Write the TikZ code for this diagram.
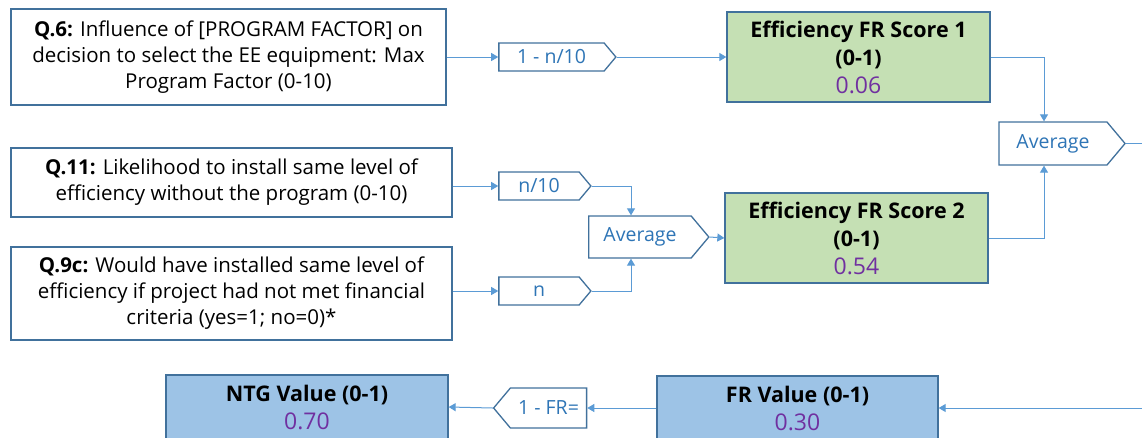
\documentclass[tikz,border=0pt]{standalone}
\usepackage{fontspec}
\setmainfont{Open Sans}
\usetikzlibrary{arrows.meta,shapes.symbols}
\definecolor{boxline}{HTML}{41719C}
\definecolor{wire}{HTML}{5B9BD5}
\definecolor{scoregreen}{HTML}{C5E0B4}
\definecolor{valueblue}{HTML}{9DC3E6}
\definecolor{opblue}{HTML}{2E75B6}
\definecolor{numpurple}{HTML}{7030A0}
\newcommand{\scoreval}[1]{{\fontsize{23}{28}\selectfont\textcolor{numpurple}{#1}}}
\begin{document}
\begin{tikzpicture}[
  x=1pt, y=-1pt,
  question/.style={draw=boxline, line width=1.3pt, fill=white, align=center, inner sep=0pt,
    minimum width=441pt, font=\fontsize{20.5}{26}\selectfont},
  score/.style={draw=boxline, line width=1.3pt, fill=scoregreen, align=center, inner sep=0pt,
    minimum width=263pt, minimum height=90pt, font=\fontsize{21.5}{28}\selectfont},
  result/.style={draw=boxline, line width=1.3pt, fill=valueblue, align=center, inner sep=0pt,
    minimum width=282pt, minimum height=64pt, font=\fontsize{21.5}{28}\selectfont},
  op/.style={draw=boxline, line width=1.3pt, fill=white, shape=signal, signal to=east,
    signal pointer angle=100, inner sep=0pt, text=opblue, font=\fontsize{19.5}{22}\selectfont},
  wire/.style={draw=wire, line width=1pt},
  arrow/.style={-{Triangle[length=7pt,width=8pt]}}
]
\useasboundingbox (0,0) rectangle (1142,437);
% inputs
\node[question, minimum width=435pt, minimum height=96pt] (q6) at (228.5,57)
  {\textbf{Q.6:} Influence of [PROGRAM FACTOR] on\\decision to select the EE equipment: Max\\Program Factor (0-10)};
\node[question, minimum height=69pt] (q11) at (231.5,182.5)
  {\textbf{Q.11:} Likelihood to install same level of\\efficiency without the program (0-10)};
\node[question, minimum height=93pt] (q9c) at (231.5,293.5)
  {\textbf{Q.9c:} Would have installed same level of\\efficiency if project had not met financial\\criteria (yes=1; no=0)*};
% operations
\node[op, minimum width=117pt, minimum height=28pt] (minusn) at (551.5,57) {1 - n/10};
\node[op, minimum width=92pt, minimum height=28pt] (ndiv) at (539,186) {n/10};
\node[op, minimum width=92pt, minimum height=28pt] (nval) at (539,291) {n};
\node[op, minimum width=120pt, minimum height=42pt] (avgeff) at (640,237) {Average};
\node[op, minimum width=126pt, minimum height=43pt] (avgfr) at (1053,143.5) {Average};
\node[op, signal to=west, minimum width=93pt, minimum height=40pt] (minusfr) at (548.5,408) {1 - FR=};
% scores
\node[score] (score1) at (858.5,57)
  {\textbf{Efficiency FR Score 1}\\\textbf{(0-1)}\\\scoreval{0.06}};
\node[score] (score2) at (856.5,238)
  {\textbf{Efficiency FR Score 2}\\\textbf{(0-1)}\\\scoreval{0.54}};
\node[result] (ntg) at (307,407)
  {\textbf{NTG Value (0-1)}\\\scoreval{0.70}};
\node[result, minimum width=281pt] (frval) at (797.5,408)
  {\textbf{FR Value (0-1)}\\\scoreval{0.30}};
\coordinate (frout) at (1142,143.5);
\coordinate (frin) at (1142,408);
% connectors
\draw[wire, arrow] (q6.east) -- (minusn.west);
\draw[wire, arrow] (minusn.east) -- (score1.west);
\draw[wire, arrow] (q11.east |- ndiv) -- (ndiv.west);
\draw[wire, arrow] (q9c.east |- nval) -- (nval.west);
\draw[wire, arrow] (ndiv.east) -| ([xshift=-9pt]avgeff.north);
\draw[wire, arrow] (nval.east) -| ([xshift=-9pt]avgeff.south);
\draw[wire, arrow] (avgeff.east) -- (score2.west);
\draw[wire, arrow] (score1.east) -| ([xshift=-9pt]avgfr.north);
\draw[wire, arrow] (score2.east) -| ([xshift=-9pt]avgfr.south);
\draw[wire] (avgfr.east) -- (frout);
\draw[wire, arrow] (frin) -- (frval.east);
\draw[wire, arrow] (frval.west) -- (minusfr.east);
\draw[wire, arrow] (minusfr.west) -- (ntg.east);
\end{tikzpicture}
\end{document}
